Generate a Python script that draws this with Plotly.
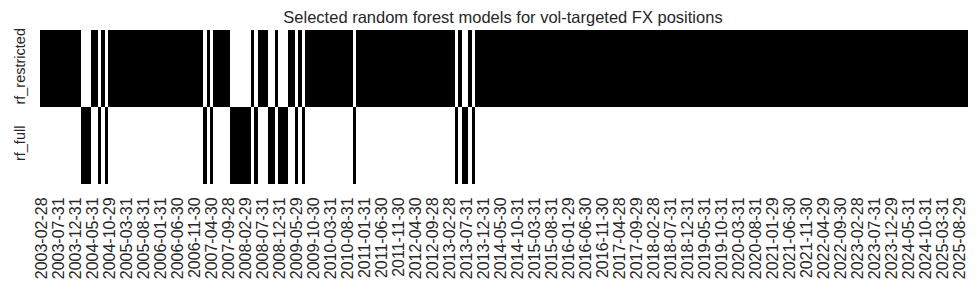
import pandas as pd
import plotly.graph_objects as go

# Monthly (business month-end) dates shown as categories
try:
    dates = pd.date_range("2003-02-28", periods=273, freq="BME")
except Exception:
    dates = pd.date_range("2003-02-28", periods=273, freq="BM")
date_labels = [d.strftime("%Y-%m-%d") for d in dates]

models = ["rf_full", "rf_restricted"]

# Selected model per month, as run lengths (R = rf_restricted, F = rf_full)
selection_runs = [
    ("R", 12), ("F", 3), ("R", 2), ("F", 1), ("R", 1), ("F", 1), ("R", 28),
    ("F", 1), ("R", 1), ("F", 1), ("R", 5), ("F", 6), ("R", 1), ("F", 1),
    ("R", 3), ("F", 2), ("R", 1), ("F", 3), ("R", 2), ("F", 1), ("R", 1),
    ("F", 1), ("R", 14), ("F", 1), ("R", 29), ("F", 1), ("R", 1), ("F", 2),
    ("R", 1), ("F", 1), ("R", 145),
]

selected = []
for m, n in selection_runs:
    selected += [m] * n

restricted_row = [1 if s == "R" else 0 for s in selected]
full_row = [1 if s == "F" else 0 for s in selected]

tick_labels = date_labels[::5]

fig = go.Figure(
    go.Heatmap(
        z=[full_row, restricted_row],
        x=date_labels,
        y=models,
        colorscale=[[0, "#ffffff"], [1, "#000000"]],
        zmin=0,
        zmax=1,
        showscale=False,
    )
)

txt = "#262626"
fig.update_layout(
    width=980,
    height=292,
    margin=dict(l=38, r=12, t=30, b=108),
    paper_bgcolor="white",
    plot_bgcolor="white",
    font=dict(family="Liberation Sans, Arial, sans-serif", color=txt, size=14),
    title=dict(
        text="Selected random forest models for vol-targeted FX positions",
        x=(38 + 968) / 2 / 980,
        xanchor="center",
        y=1 - 17 / 292,
        yanchor="middle",
        font=dict(size=16.5, color=txt),
    ),
)
fig.update_xaxes(
    type="category",
    tickmode="array",
    tickvals=tick_labels,
    ticktext=tick_labels,
    tickangle=-90,
    showgrid=False,
    zeroline=False,
    showline=False,
    ticks="outside",
    ticklen=6,
    tickcolor="white",
    tickfont=dict(size=16, color=txt),
)
fig.update_yaxes(
    type="category",
    tickangle=-90,
    showgrid=False,
    zeroline=False,
    showline=False,
    ticks="outside",
    ticklen=8,
    tickcolor="white",
    tickfont=dict(size=14.5, color=txt),
)

fig.write_html("out.html")
